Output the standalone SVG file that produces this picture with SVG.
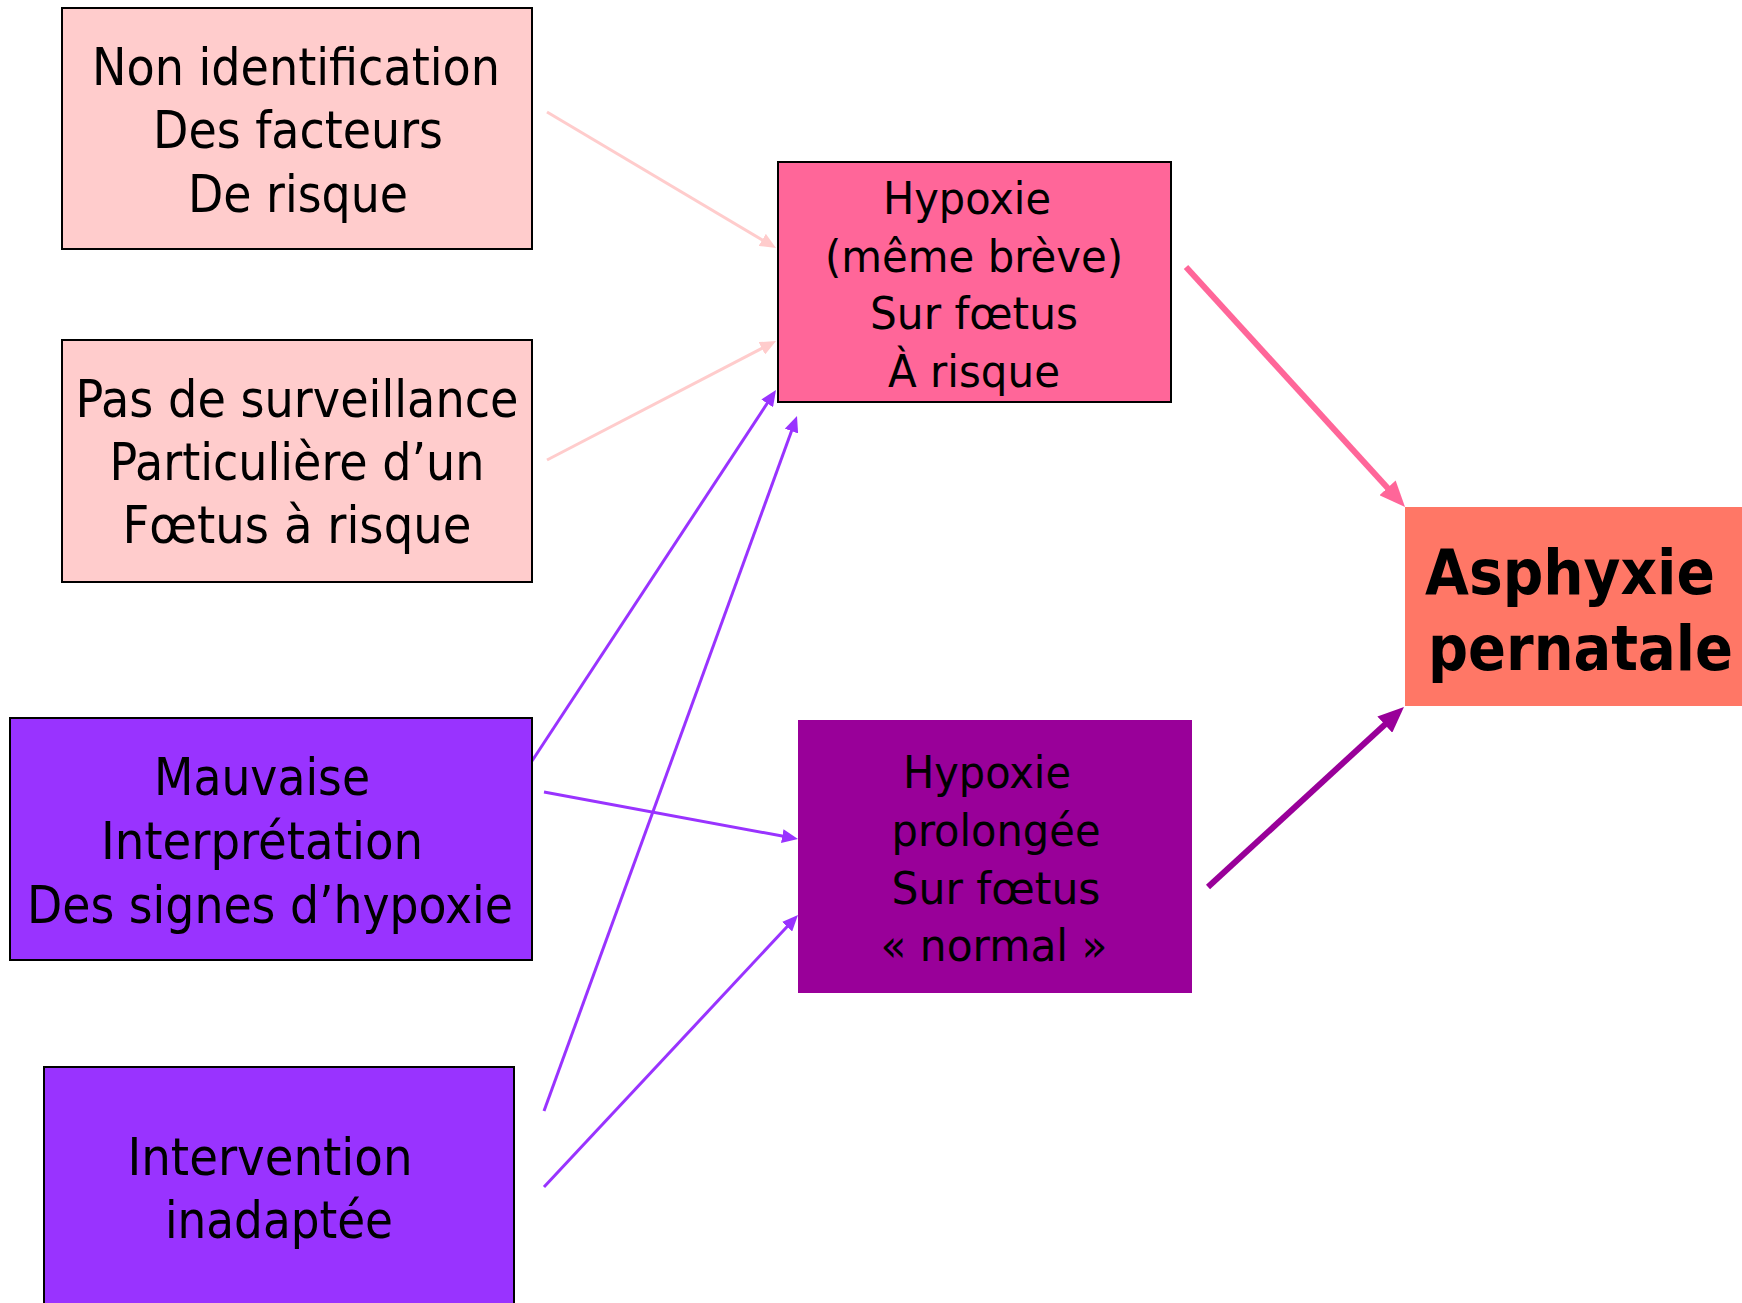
<svg xmlns="http://www.w3.org/2000/svg" width="1742" height="1303" viewBox="0 0 1742 1303">
<style>
.t{font-family:"DejaVu Sans Condensed","DejaVu Sans",sans-serif;fill:#000;text-anchor:middle}
.big{font-size:52px}
.mid{font-size:45px}
.bold{font-family:"DejaVu Sans Condensed","DejaVu Sans",sans-serif;font-weight:bold;font-size:62px;fill:#000}
.bd{stroke:#000;stroke-width:2}
.c{fill:none;stroke-linecap:butt}
</style>
<defs>
<marker id="mLight" markerUnits="userSpaceOnUse" markerWidth="16" markerHeight="14" refX="4" refY="7" orient="auto"><path d="M0,0 L16,7 L0,14 z" fill="#FFCCCC"/></marker>
<marker id="mPurple" markerUnits="userSpaceOnUse" markerWidth="16" markerHeight="14" refX="4" refY="7" orient="auto"><path d="M0,0 L16,7 L0,14 z" fill="#9933FF"/></marker>
<marker id="mPink" markerUnits="userSpaceOnUse" markerWidth="26" markerHeight="22" refX="8" refY="11" orient="auto"><path d="M0,0 L26,11 L0,22 z" fill="#FF6699"/></marker>
<marker id="mDark" markerUnits="userSpaceOnUse" markerWidth="26" markerHeight="22" refX="8" refY="11" orient="auto"><path d="M0,0 L26,11 L0,22 z" fill="#990099"/></marker>
</defs>
<rect width="1742" height="1303" fill="#fff"/>
<g id="connectors">
<line class="c" x1="547" y1="112" x2="765.7" y2="241.9" stroke="#FFCCCC" stroke-width="3" marker-end="url(#mLight)"/>
<line class="c" x1="547" y1="460" x2="765.4" y2="346.5" stroke="#FFCCCC" stroke-width="3" marker-end="url(#mLight)"/>
<line class="c" x1="532" y1="761" x2="769.4" y2="400" stroke="#9933FF" stroke-width="3" marker-end="url(#mPurple)"/>
<line class="c" x1="544" y1="1111" x2="792.9" y2="427.3" stroke="#9933FF" stroke-width="3" marker-end="url(#mPurple)"/>
<line class="c" x1="544" y1="792" x2="786.2" y2="836.8" stroke="#9933FF" stroke-width="3" marker-end="url(#mPurple)"/>
<line class="c" x1="544" y1="1187" x2="789.8" y2="923.8" stroke="#9933FF" stroke-width="3" marker-end="url(#mPurple)"/>
<line class="c" x1="1186" y1="267" x2="1392.9" y2="493.7" stroke="#FF6699" stroke-width="6" marker-end="url(#mPink)"/>
<line class="c" x1="1208" y1="887" x2="1390.7" y2="719.2" stroke="#990099" stroke-width="6" marker-end="url(#mDark)"/>
</g>
<g id="n1">
<rect class="bd" x="62" y="8" width="470" height="241" fill="#FFCCCC"/>
<text class="t big" x="296" y="85" textLength="408" lengthAdjust="spacingAndGlyphs">Non identification</text>
<text class="t big" x="298" y="148" textLength="290" lengthAdjust="spacingAndGlyphs">Des facteurs</text>
<text class="t big" x="298" y="212" textLength="220" lengthAdjust="spacingAndGlyphs">De risque</text>
</g>
<g id="n2">
<rect class="bd" x="62" y="340" width="470" height="242" fill="#FFCCCC"/>
<text class="t big" x="297" y="417" textLength="443" lengthAdjust="spacingAndGlyphs">Pas de surveillance</text>
<text class="t big" x="297" y="480" textLength="375" lengthAdjust="spacingAndGlyphs">Particulière d’un</text>
<text class="t big" x="297" y="543" textLength="349" lengthAdjust="spacingAndGlyphs">Fœtus à risque</text>
</g>
<g id="n3">
<rect class="bd" x="10" y="718" width="522" height="242" fill="#9933FF"/>
<text class="t big" x="262" y="795" textLength="216" lengthAdjust="spacingAndGlyphs">Mauvaise</text>
<text class="t big" x="262" y="859" textLength="322" lengthAdjust="spacingAndGlyphs">Interprétation</text>
<text class="t big" x="270" y="923" textLength="486" lengthAdjust="spacingAndGlyphs">Des signes d’hypoxie</text>
</g>
<g id="n4">
<rect class="bd" x="44" y="1067" width="470" height="250" fill="#9933FF"/>
<text class="t big" x="270" y="1175" textLength="285" lengthAdjust="spacingAndGlyphs">Intervention</text>
<text class="t big" x="279" y="1238" textLength="228" lengthAdjust="spacingAndGlyphs">inadaptée</text>
</g>
<g id="n5">
<rect class="bd" x="778" y="162" width="393" height="240" fill="#FF6699"/>
<text class="t mid" x="967" y="214" textLength="168" lengthAdjust="spacingAndGlyphs">Hypoxie</text>
<text class="t mid" x="974" y="272" textLength="298" lengthAdjust="spacingAndGlyphs">(même brève)</text>
<text class="t mid" x="974" y="329" textLength="208" lengthAdjust="spacingAndGlyphs">Sur fœtus</text>
<text class="t mid" x="974" y="387" textLength="172" lengthAdjust="spacingAndGlyphs">À risque</text>
</g>
<g id="n6">
<rect x="798" y="720" width="394" height="273" fill="#990099"/>
<text class="t mid" x="987" y="788" textLength="168" lengthAdjust="spacingAndGlyphs">Hypoxie</text>
<text class="t mid" x="996" y="846" textLength="209" lengthAdjust="spacingAndGlyphs">prolongée</text>
<text class="t mid" x="996" y="904" textLength="209" lengthAdjust="spacingAndGlyphs">Sur fœtus</text>
<text class="t mid" x="994" y="961" textLength="227" lengthAdjust="spacingAndGlyphs">« normal »</text>
</g>
<g id="n7">
<rect x="1405" y="507" width="337" height="199" fill="#FF7766"/>
<text class="bold" x="1425" y="594" textLength="290" lengthAdjust="spacingAndGlyphs">Asphyxie</text>
<text class="bold" x="1428" y="670" textLength="305" lengthAdjust="spacingAndGlyphs">pernatale</text>
</g>
</svg>
